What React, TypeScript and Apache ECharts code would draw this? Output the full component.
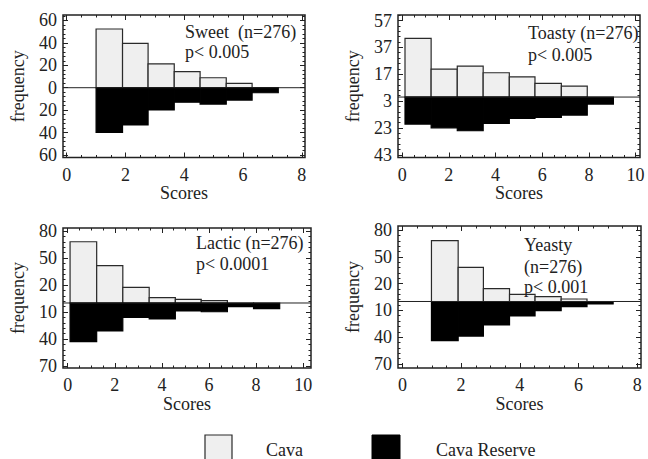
import React, { useEffect, useRef } from "react";
import * as echarts from "echarts";

// ---- data ----
const sweetEdges = [1.0, 1.9, 2.77, 3.66, 4.54, 5.43, 6.31, 7.2];
const sweetCava = [52.4, 39.6, 21.2, 14.3, 8.9, 3.9, 0];
const sweetReserve = [39.8, 33.3, 19.9, 13.0, 14.6, 11.0, 4.5];

const toastyEdges = [0.12, 1.24, 2.36, 3.47, 4.59, 5.69, 6.82, 7.93, 9.05];
const toastyCava = [43.7, 20.8, 23.1, 18.1, 15.1, 10.2, 8.2, 0];
const toastyReserve = [20.1, 22.9, 25.1, 19.6, 15.9, 15.1, 13.4, 5.2];

const lacticEdges = [0.1, 1.23, 2.34, 3.46, 4.57, 5.67, 6.78, 7.89, 9.0];
const lacticCava = [68, 41.4, 17.4, 5.9, 4.1, 2.6, 0, 0];
const lacticReserve = [43, 31.1, 15.9, 17.8, 8.9, 9.7, 4.1, 6.3];

const yeastyEdges = [0.99, 1.9, 2.76, 3.65, 4.52, 5.41, 6.29, 7.18];
const yeastyCava = [68.3, 38.4, 14.4, 8.1, 5.4, 2.8, 0];
const yeastyReserve = [44, 38.8, 26.4, 16.3, 10.3, 5.8, 2.8];

const xTicks8 = [0, 2, 4, 6, 8];
const xTicks10 = [0, 2, 4, 6, 8, 10];
const sweetYTicks = [-60, -40, -20, 0, 20, 40, 60];
const toastyYTicks = [-43, -23, -3, 17, 37, 57];
const lacticYTicks = [-70, -40, -10, 20, 50, 80];
const yeastyYTicks = [-70, -40, -10, 20, 50, 80];

const seriesNames = ["Cava", "Cava Reserve"];

const FONT = "Liberation Serif";
const INK = "#222";

type Panel = {
  edges: number[];
  cava: number[];
  reserve: number[];
  xTicks: number[];
  yTicks: number[];
  xMin: number;
  xMax: number;
  yMin: number;
  yMax: number;
  yMinorStep: number;
  rect: { left: number; top: number; width: number; height: number };
  notes: { text: string; x: number; y: number }[];
};

const panels: Panel[] = [
  {
    edges: sweetEdges, cava: sweetCava, reserve: sweetReserve,
    xTicks: xTicks8, yTicks: sweetYTicks,
    xMin: -0.126, xMax: 8.11, yMin: -62.3, yMax: 64.9, yMinorStep: 4,
    rect: { left: 63, top: 15, width: 242, height: 142.5 },
    notes: [
      { text: "Sweet  (n=276)", x: 185, y: 32 },
      { text: "p< 0.005", x: 185, y: 52 },
    ],
  },
  {
    edges: toastyEdges, cava: toastyCava, reserve: toastyReserve,
    xTicks: xTicks10, yTicks: toastyYTicks,
    xMin: -0.18, xMax: 10.19, yMin: -45, yMax: 61.1, yMinorStep: 4,
    rect: { left: 398, top: 15, width: 242, height: 142.5 },
    notes: [
      { text: "Toasty (n=276)", x: 528, y: 33 },
      { text: "p< 0.005", x: 528, y: 55 },
    ],
  },
  {
    edges: lacticEdges, cava: lacticCava, reserve: lacticReserve,
    xTicks: xTicks10, yTicks: lacticYTicks,
    xMin: -0.2, xMax: 10.33, yMin: -72.2, yMax: 83.3, yMinorStep: 6,
    rect: { left: 63, top: 228, width: 248, height: 140 },
    notes: [
      { text: "Lactic (n=276)", x: 196, y: 243 },
      { text: "p< 0.0001", x: 196, y: 264 },
    ],
  },
  {
    edges: yeastyEdges, cava: yeastyCava, reserve: yeastyReserve,
    xTicks: xTicks8, yTicks: yeastyYTicks,
    xMin: -0.15, xMax: 8.13, yMin: -74.7, yMax: 84.8, yMinorStep: 6,
    rect: { left: 398, top: 226, width: 243, height: 142 },
    notes: [
      { text: "Yeasty", x: 524, y: 245 },
      { text: "(n=276)", x: 524, y: 267 },
      { text: "p< 0.001", x: 524, y: 287 },
    ],
  },
];

function minorValues(start: number, end: number, step: number) {
  const out: number[] = [];
  for (let v = start; v <= end + 1e-9; v += step) out.push(+v.toFixed(4));
  return out;
}

function buildOption() {
  const grids: any[] = [];
  const xAxes: any[] = [];
  const yAxes: any[] = [];
  const series: any[] = [];
  const graphics: any[] = [];
  const tickStyle = { color: INK, width: 1 };
  const labelStyle = { fontFamily: FONT, fontSize: 18, color: INK };

  panels.forEach((p, i) => {
    grids.push({
      ...p.rect,
      show: true,
      borderColor: INK,
      borderWidth: 1.5,
      backgroundColor: "transparent",
      containLabel: false,
    });
    const xMinor = minorValues(0, Math.floor(p.xMax * 2) / 2, 0.5);
    const y0 = p.yTicks[0];
    const yMinor = minorValues(
      y0 - Math.floor((y0 - p.yMin) / p.yMinorStep) * p.yMinorStep,
      p.yMax,
      p.yMinorStep
    );
    const baseX = {
      type: "value", gridIndex: i, min: p.xMin, max: p.xMax,
      axisLine: { show: false, onZero: false },
      splitLine: { show: false },
    };
    const baseY = {
      type: "value", gridIndex: i, min: p.yMin, max: p.yMax,
      axisLine: { show: false, onZero: false },
      splitLine: { show: false },
    };
    const xIdx = xAxes.length;
    const yIdx = yAxes.length;
    // x axes
    xAxes.push({
      ...baseX, position: "bottom",
      axisTick: { show: true, inside: true, length: 5, customValues: p.xTicks, lineStyle: tickStyle },
      axisLabel: { show: true, customValues: p.xTicks, margin: 8, ...labelStyle },
      name: "Scores", nameLocation: "middle", nameGap: 26,
      nameTextStyle: { ...labelStyle },
    });
    xAxes.push({
      ...baseX, position: "bottom",
      axisTick: { show: true, inside: true, length: 2.5, customValues: xMinor, lineStyle: tickStyle },
      axisLabel: { show: false },
    });
    xAxes.push({
      ...baseX, position: "top",
      axisTick: { show: true, inside: true, length: 5, customValues: p.xTicks, lineStyle: tickStyle },
      axisLabel: { show: false },
    });
    xAxes.push({
      ...baseX, position: "top",
      axisTick: { show: true, inside: true, length: 2.5, customValues: xMinor, lineStyle: tickStyle },
      axisLabel: { show: false },
    });
    // y axes
    yAxes.push({
      ...baseY, position: "left",
      axisTick: { show: true, inside: true, length: 5, customValues: p.yTicks, lineStyle: tickStyle },
      axisLabel: {
        show: true, customValues: p.yTicks, margin: 6, ...labelStyle,
        padding: [9, 0, 0, 0],
        formatter: (v: number) => String(Math.abs(v)),
      },
      name: "frequency", nameLocation: "middle", nameGap: 36,
      nameTextStyle: { ...labelStyle },
    });
    yAxes.push({
      ...baseY, position: "left",
      axisTick: { show: true, inside: true, length: 2.5, customValues: yMinor, lineStyle: tickStyle },
      axisLabel: { show: false },
    });
    yAxes.push({
      ...baseY, position: "right",
      axisTick: { show: true, inside: true, length: 5, customValues: p.yTicks, lineStyle: tickStyle },
      axisLabel: { show: false },
    });
    yAxes.push({
      ...baseY, position: "right",
      axisTick: { show: true, inside: true, length: 2.5, customValues: yMinor, lineStyle: tickStyle },
      axisLabel: { show: false },
    });

    const mkData = (vals: number[], sign: number) =>
      vals.map((v, k) => [p.edges[k], p.edges[k + 1], sign * v]);

    const mkSeries = (name: string, vals: number[], sign: number, fill: string, stroke: string) => ({
      type: "custom",
      name,
      xAxisIndex: xIdx,
      yAxisIndex: yIdx,
      encode: { x: [0, 1], y: 2 },
      data: mkData(vals, sign),
      renderItem: (_params: any, api: any) => {
        const x0 = api.value(0);
        const x1 = api.value(1);
        const v = api.value(2);
        if (!v) return null;
        const a = api.coord([x0, 0]);
        const b = api.coord([x1, v]);
        return {
          type: "rect",
          shape: {
            x: a[0],
            y: Math.min(a[1], b[1]),
            width: b[0] - a[0],
            height: Math.abs(b[1] - a[1]),
          },
          style: { fill, stroke, lineWidth: 1.2 },
        };
      },
    });
    series.push(mkSeries(seriesNames[0], p.cava, 1, "#efefef", "#2a2a2a"));
    series.push(mkSeries(seriesNames[1], p.reserve, -1, "#000", "#000"));
    series.push({
      type: "line",
      name: "zero",
      xAxisIndex: xIdx,
      yAxisIndex: yIdx,
      data: [[p.xMin, 0], [p.xMax, 0]],
      symbol: "none",
      silent: true,
      lineStyle: { color: INK, width: 1 },
      z: 5,
    });

    p.notes.forEach((n) => {
      graphics.push({
        type: "text",
        x: n.x,
        y: n.y,
        z: 10,
        style: {
          text: n.text,
          fontFamily: FONT,
          fontSize: 18,
          fill: INK,
          align: "left",
          verticalAlign: "middle",
        },
      });
    });
  });

  // legend (drawn as graphic)
  graphics.push(
    { type: "rect", shape: { x: 205, y: 435, width: 27, height: 30 }, style: { fill: "#efefef", stroke: "#2a2a2a", lineWidth: 1.2 } },
    { type: "text", x: 266, y: 450, style: { text: seriesNames[0], fontFamily: FONT, fontSize: 18, fill: INK, verticalAlign: "middle" } },
    { type: "rect", shape: { x: 372, y: 435, width: 28, height: 30 }, style: { fill: "#000", stroke: "#000", lineWidth: 1 } },
    { type: "text", x: 436, y: 450, style: { text: seriesNames[1], fontFamily: FONT, fontSize: 18, fill: INK, verticalAlign: "middle" } }
  );

  return {
    animation: false,
    backgroundColor: "#fff",
    grid: grids,
    xAxis: xAxes,
    yAxis: yAxes,
    series,
    graphic: graphics,
  };
}

export default function App() {
  const ref = useRef<HTMLDivElement>(null);
  useEffect(() => {
    if (!ref.current) return;
    const chart = echarts.init(ref.current, undefined, { renderer: "svg" });
    chart.setOption(buildOption() as any);
    return () => chart.dispose();
  }, []);
  return (
    <div
      ref={ref}
      style={{ position: "fixed", left: 0, top: 0, width: 648, height: 459, background: "#fff" }}
    />
  );
}
